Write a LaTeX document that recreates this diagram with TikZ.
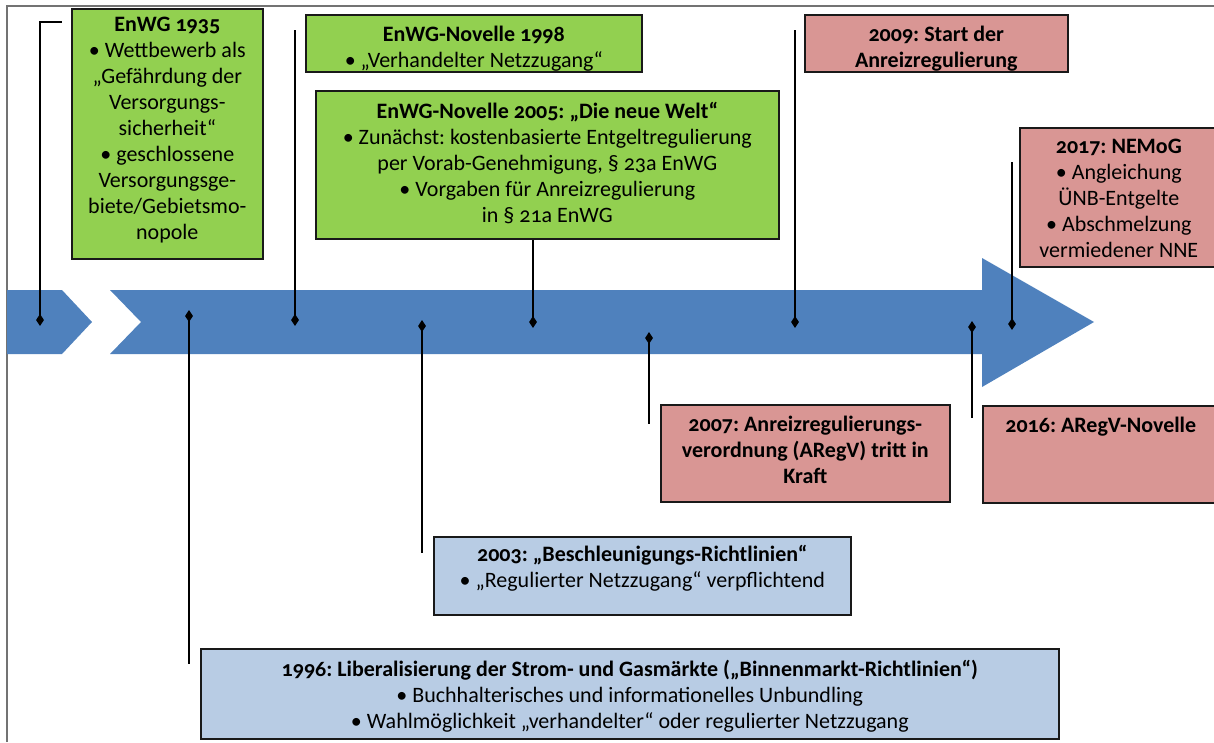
\documentclass[tikz,border=0pt]{standalone}
\usepackage{fontspec}
\setmainfont{Carlito}[Numbers=OldStyle]
\usetikzlibrary{shapes.geometric,positioning}

\definecolor{gruen}{HTML}{92D050}
\definecolor{rosa}{HTML}{D99694}
\definecolor{hellblau}{HTML}{B8CCE4}
\definecolor{pfeil}{HTML}{4F81BD}

\tikzset{
  ereignis/.style={draw=black!90, line width=1.6pt, inner sep=0pt, anchor=north west},
  gruenbox/.style={ereignis, fill=gruen},
  rosabox/.style={ereignis, fill=rosa},
  blaubox/.style={ereignis, fill=hellblau},
  txt/.style={align=center, inner sep=0pt, font=\fontsize{22}{26}\selectfont},
  raute/.style={diamond, fill=black, inner sep=0pt, minimum width=8pt, minimum height=12pt},
  stiel/.style={line width=1.5pt, black},
}
\frenchspacing

\begin{document}
\begin{tikzpicture}[x=1pt,y=-1pt]
  \useasboundingbox (0,0) rectangle (1214,742);
  \clip (0,0) rectangle (1214,742);
  % Rahmen
  \draw [line width=1.5pt, black!55] (7,742) -- (7,6) -- (1214,6);
  % Zeitpfeil
  \fill [pfeil] (7,290) -- (62,290) -- (92,322) -- (62,354) -- (7,354) -- cycle;
  \fill [pfeil] (110,290) -- (982,290) -- (982,258) -- (1094,322) -- (982,387)
    -- (982,354) -- (110,354) -- (141,322) -- cycle;

  % Rauten auf dem Pfeil
  \node [raute] (d35) at (40,320) {};
  \node [raute] (d96) at (189,316) {};
  \node [raute] (d98) at (295,320) {};
  \node [raute] (d03) at (422,326) {};
  \node [raute] (d05) at (533,322) {};
  \node [raute] (d07) at (649,338) {};
  \node [raute] (d09) at (795,322) {};
  \node [raute] (d16) at (972,327) {};
  \node [raute] (d17) at (1012,324) {};

  % Kaesten
  \node [gruenbox, minimum width=191pt, minimum height=250pt] (b35) at (71,8) {};
  \node [gruenbox, minimum width=336pt, minimum height=57pt] (b98) at (305,14) {};
  \node [gruenbox, minimum width=463pt, minimum height=148pt] (b05) at (315,90) {};
  \node [rosabox, minimum width=263pt, minimum height=57pt] (b09) at (804,14) {};
  \node [rosabox, minimum width=198pt, minimum height=139pt] (b17) at (1019,127) {};
  \node [rosabox, minimum width=236pt, minimum height=97pt] (b16) at (982,405) {};
  \node [rosabox, minimum width=289pt, minimum height=97pt] (b07) at (660,404) {};
  \node [blaubox, minimum width=417pt, minimum height=78pt] (b03) at (433,536) {};
  \node [blaubox, minimum width=858pt, minimum height=90pt] (b96) at (200,648) {};

  % Texte
  \node [txt, below=9pt of b35.north] (t35) {\textbf{EnWG 1935}\\
    • Wettbewerb als\\„Gefährdung der\\Versorgungs-\\sicherheit“\\
    • geschlossene\\Versorgungsge-\\biete/Gebietsmo-\\nopole};
  \node [txt, below=12pt of b98.north] (t98) {\textbf{EnWG-Novelle 1998}\\
    • „Verhandelter Netzzugang“};
  \node [txt, below=12pt of b05.north] (t05) {\textbf{EnWG-Novelle 2005: „Die neue Welt“}\\
    • Zunächst: kostenbasierte Entgeltregulierung\\
    per Vorab-Genehmigung, § 23a EnWG\\
    • Vorgaben für Anreizregulierung\\in § 21a EnWG};
  \node [txt, below=12pt of b09.north] (t09) {\textbf{2009: Start der}\\\textbf{Anreizregulierung}};
  \node [txt, below=12pt of b17.north] (t17) {\textbf{2017: NEMoG}\\
    • Angleichung\\ÜNB-Entgelte\\• Abschmelzung\\vermiedener NNE};
  \node [txt, below=12pt of b16.north] (t16) {\textbf{2016: ARegV-Novelle}};
  \node [txt, below=12pt of b07.north] (t07) {\textbf{2007: Anreizregulierungs-}\\
    \textbf{verordnung (ARegV) tritt in}\\\textbf{Kraft}};
  \node [txt, below=9pt of b03.north] (t03) {\textbf{2003: „Beschleunigungs-Richtlinien“}\\
    • „Regulierter Netzzugang“ verpflichtend};
  \node [txt, below=12pt of b96.north] (t96)
    {\textbf{1996: Liberalisierung der Strom- und Gasmärkte („Binnenmarkt-Richtlinien“)}\\
    • Buchhalterisches und informationelles Unbundling\\
    • Wahlmöglichkeit „verhandelter“ oder regulierter Netzzugang};

  % Stiele
  \coordinate (e35) at (62,22);
  \coordinate (e96) at (189,664);
  \coordinate (e98) at (295,30);
  \coordinate (e03) at (422,553);
  \coordinate (e07) at (649,424);
  \coordinate (e09) at (795,30);
  \coordinate (e16) at (972,418);
  \coordinate (e17) at (1012,162);
  \draw [stiel] (d35.center) |- (e35);
  \draw [stiel] (d96.center) -- (e96);
  \draw [stiel] (d98.center) -- (e98);
  \draw [stiel] (d03.center) -- (e03);
  \draw [stiel] (d05.center) -- (b05.south -| d05);
  \draw [stiel] (d07.center) -- (e07);
  \draw [stiel] (d09.center) -- (e09);
  \draw [stiel] (d16.center) -- (e16);
  \draw [stiel] (d17.center) -- (e17);
\end{tikzpicture}
\end{document}
